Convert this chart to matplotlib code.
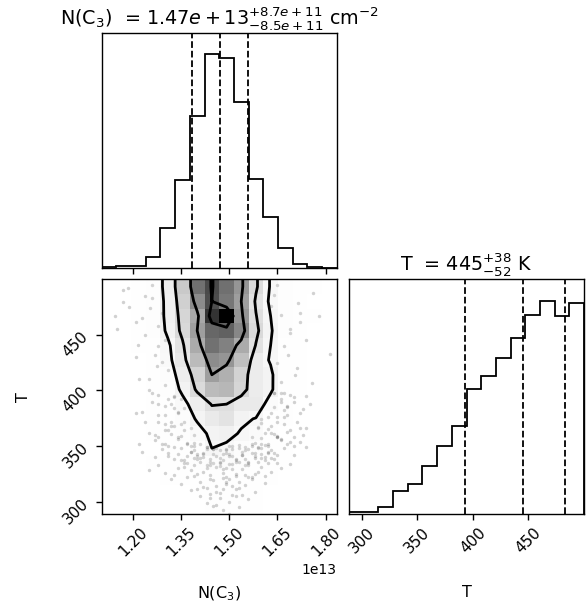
import numpy as np
import matplotlib
matplotlib.use("Agg")
import matplotlib.pyplot as plt
from matplotlib.colors import LinearSegmentedColormap

# ---------------- data ----------------
N_RANGE = (1.104e13, 1.834e13)
T_RANGE = (288.5, 500.0)
NBINS = 16

# 1D marginal histograms (relative counts per bin, low -> high)
N_HIST = [2, 4, 6, 32, 119, 264, 457, 643, 632, 498, 268, 152, 58, 10, 1, 0]
T_HIST = [6, 8, 23, 70, 90, 146, 205, 266, 376, 413, 468, 528, 598, 640, 594, 632]

# quantiles (16, 50, 84 %)
N_Q = [1.385e13, 1.47e13, 1.557e13]
T_Q = [393, 445, 483]

N_TICKS = [1.20e13, 1.35e13, 1.50e13, 1.65e13, 1.80e13]
T_TICKS = [300, 350, 400, 450]

N_TITLE = r"N(C$_3$)  = ${1.47e+13}_{-8.5e+11}^{+8.7e+11}$ cm$^{-2}$"
T_TITLE = r"T  = ${445}_{-52}^{+38}$ K"
N_LABEL = r"N(C$_3$)"
T_LABEL = "T"

# 2D histogram counts: rows = T bins from highest (top) to lowest, cols = N bins low -> high
H_ROWS_TOP_DOWN = [
    [0, 0, 3, 12, 34, 64, 104, 118, 105, 90, 52, 24, 10, 6, 2, 0],
    [0, 0, 3, 11, 32, 60, 94, 117, 102, 86, 46, 22, 10, 4, 0, 0],
    [0, 0, 2, 10, 32, 56, 82, 125, 140, 90, 50, 26, 12, 5, 2, 0],
    [0, 0, 2, 9, 30, 54, 86, 108, 110, 96, 54, 28, 10, 4, 0, 0],
    [0, 0, 1, 6, 22, 46, 80, 104, 98, 80, 48, 26, 8, 2, 0, 0],
    [0, 0, 0, 5, 20, 42, 72, 94, 90, 70, 38, 24, 6, 1, 0, 0],
    [0, 0, 0, 3, 15, 36, 58, 86, 78, 58, 38, 30, 5, 1, 0, 0],
    [0, 0, 0, 2, 12, 30, 52, 72, 74, 56, 38, 30, 4, 1, 0, 0],
    [0, 0, 0, 2, 8, 20, 36, 50, 49, 40, 40, 16, 4, 0, 0, 0],
    [0, 0, 0, 1, 6, 15, 28, 40, 46, 30, 25, 8, 3, 0, 0, 0],
    [0, 0, 0, 1, 4, 10, 19, 30, 32, 24, 18, 6, 0, 0, 0, 0],
    [0, 0, 0, 0, 3, 6, 12, 26, 22, 14, 9, 4, 1, 0, 0, 0],
    [0, 0, 0, 1, 2, 5, 9, 14, 16, 12, 6, 3, 1, 0, 0, 0],
    [0, 0, 0, 0, 1, 2, 3, 4, 5, 4, 3, 1, 0, 0, 0, 0],
    [0, 0, 0, 0, 0, 0, 1, 2, 2, 2, 1, 0, 0, 0, 0, 0],
    [0, 0, 0, 0, 0, 0, 0, 1, 2, 2, 1, 0, 0, 0, 0, 0],
]

# individual samples visible outside the outer contour (N in units of 1e13)
PTS_N = [
    # left wing
    1.187, 1.238, 1.145, 1.254, 1.218, 1.275, 1.228, 1.17, 1.21, 1.26, 1.28, 1.24, 1.29,
    1.27, 1.22, 1.30, 1.31, 1.25, 1.33, 1.29, 1.32, 1.35, 1.28, 1.34, 1.36, 1.31,
    1.15, 1.19, 1.23, 1.26, 1.21, 1.17, 1.25, 1.30, 1.28,
    1.26, 1.28, 1.30, 1.32, 1.27, 1.29, 1.31, 1.33, 1.24, 1.34, 1.30, 1.28,
    # right wing
    1.647, 1.714, 1.756, 1.813, 1.683, 1.704, 1.64, 1.66, 1.69, 1.63, 1.67, 1.65, 1.72,
    1.62, 1.64, 1.61, 1.66, 1.63, 1.60, 1.62, 1.68, 1.74, 1.65, 1.60, 1.59,
    1.72, 1.76, 1.69, 1.71, 1.67, 1.74, 1.78, 1.66,
    1.64, 1.66, 1.68, 1.70, 1.72, 1.75, 1.65, 1.67, 1.69, 1.71, 1.73, 1.66, 1.68, 1.63,
    1.70, 1.74, 1.67, 1.65, 1.69, 1.72,
    # low-T tail
    1.46, 1.50, 1.44, 1.53, 1.48, 1.41, 1.56, 1.51,
    1.38, 1.43, 1.47, 1.52, 1.55, 1.49, 1.41, 1.58, 1.45, 1.35, 1.50, 1.53, 1.46, 1.61,
    1.40, 1.57, 1.44, 1.48, 1.32, 1.52,
    1.42, 1.46, 1.49, 1.53, 1.56, 1.44, 1.51, 1.47, 1.39, 1.54, 1.45, 1.50, 1.48, 1.43, 1.52,
    1.30, 1.34, 1.37, 1.39, 1.42, 1.44, 1.46, 1.48, 1.50, 1.52, 1.54, 1.56, 1.58, 1.60,
    1.63, 1.36, 1.40, 1.45, 1.49, 1.53, 1.57, 1.62, 1.28, 1.66, 1.43, 1.47, 1.51, 1.55,
    1.33, 1.59, 1.41, 1.38, 1.61, 1.25, 1.69,
    1.27, 1.31, 1.33, 1.35, 1.37, 1.39, 1.41, 1.43, 1.45, 1.47, 1.49, 1.51, 1.53, 1.55,
    1.57, 1.59, 1.61, 1.63, 1.65, 1.67, 1.36, 1.40, 1.44, 1.48, 1.52, 1.56, 1.60, 1.64,
    1.34, 1.38, 1.42, 1.46, 1.50, 1.54, 1.58, 1.62, 1.29, 1.23, 1.70, 1.74,
    1.31, 1.35, 1.38, 1.42, 1.45, 1.49, 1.52, 1.55, 1.58, 1.61, 1.64, 1.33, 1.37, 1.40,
    1.43, 1.47, 1.50, 1.54, 1.57, 1.60, 1.63, 1.36, 1.39, 1.44, 1.48, 1.51, 1.56, 1.59,
    1.62, 1.65,
    1.37, 1.39, 1.41, 1.43, 1.45, 1.47, 1.49, 1.51, 1.53, 1.55, 1.57, 1.59, 1.61, 1.38,
    1.42, 1.46, 1.50, 1.54, 1.58, 1.40, 1.44, 1.48, 1.52, 1.56, 1.60, 1.43, 1.47, 1.51,
    1.55, 1.49,
    1.30, 1.34, 1.37, 1.39, 1.36, 1.33, 1.28, 1.25, 1.38, 1.32, 1.58, 1.60, 1.62, 1.64,
    1.59, 1.63, 1.66, 1.68, 1.61, 1.57, 1.35, 1.22, 1.70,
    1.27, 1.31, 1.35, 1.39, 1.62, 1.65, 1.69, 1.72, 1.30, 1.36, 1.60, 1.67,
    1.32, 1.28, 1.34, 1.30, 1.26, 1.33, 1.21, 1.65, 1.68, 1.64, 1.70, 1.66, 1.73, 1.62,
]
PTS_T = [
    492, 485, 467, 474, 441, 422, 381, 480, 462, 495, 458, 450, 470,
    432, 410, 445, 418, 400, 395, 426, 388, 392, 372, 380, 384, 364,
    455, 475, 465, 483, 430, 490, 410, 405, 440,
    398, 388, 378, 368, 360, 352, 392, 384, 372, 358, 364, 396,
    495, 479, 407, 433, 432, 414, 486, 468, 452, 476, 440, 425, 462,
    445, 398, 410, 390, 380, 374, 365, 385, 395, 358, 352, 367,
    470, 488, 455, 420, 398, 445, 467, 408,
    398, 392, 386, 394, 380, 388, 376, 370, 364, 372, 360, 356, 352, 362,
    350, 366, 382, 358, 396, 354,
    297, 300, 303, 295, 292, 305, 302, 306,
    310, 312, 308, 311, 315, 316, 318, 309, 319, 316, 320, 318, 314, 317,
    311, 320, 307, 321, 320, 305,
    313, 309, 318, 312, 322, 320, 314, 303, 323, 306, 296, 289, 311, 299, 325,
    326, 330, 322, 333, 327, 324, 331, 326, 334, 323, 329, 333, 325, 331,
    327, 335, 325, 335, 322, 336, 322, 335, 333, 330, 330, 336, 329, 324,
    324, 336, 336, 328, 323, 328, 334,
    340, 344, 338, 348, 341, 346, 339, 349, 343, 339, 346, 341, 348, 338,
    344, 349, 340, 346, 342, 348, 337, 343, 338, 343, 337, 347, 343, 338,
    343, 350, 344, 348, 350, 342, 339, 344, 347, 345, 342, 349,
    341, 337, 345, 340, 347, 344, 336, 346, 341, 337, 344, 349, 335, 341,
    347, 335, 343, 345, 350, 348, 339, 331, 339, 333, 329, 347, 335, 327,
    345, 335,
    352, 350, 352, 349, 347, 346, 347, 350, 351, 349, 352, 348, 351, 345,
    343, 341, 341, 342, 344, 338, 336, 337, 338, 336, 339, 333, 332, 334,
    333, 330,
    352, 356, 353, 360, 364, 368, 358, 362, 366, 361, 353, 357, 352, 361,
    366, 368, 355, 363, 362, 358, 370, 352, 358,
    355, 350, 359, 353, 350, 359, 354, 366, 370, 372, 371, 376,
    372, 378, 381, 386, 390, 394, 380, 372, 378, 385, 390, 398, 383, 376,
]
N_UNIT = 1e13

# ---------------- figure ----------------
W, Hpx = 588, 606
fig = plt.figure(figsize=(W / 100, Hpx / 100), dpi=100)
aw, ah = 235 / W, 235 / Hpx
ax00 = fig.add_axes([101.7 / W, 338.4 / Hpx, aw, ah])
ax10 = fig.add_axes([101.7 / W, 91.7 / Hpx, aw, ah])
ax11 = fig.add_axes([349.0 / W, 91.7 / Hpx, aw, ah])

xedges = np.linspace(N_RANGE[0], N_RANGE[1], NBINS + 1)
yedges = np.linspace(T_RANGE[0], T_RANGE[1], NBINS + 1)

HIST_LW = 1.3
TICK_FS = 11
LABEL_FS = 11.5
TITLE_FS = 13.8
for ax in (ax00, ax10, ax11):
    for sp in ax.spines.values():
        sp.set_linewidth(1.0)
    ax.tick_params(width=1.0, length=4, labelsize=TICK_FS)

# --- top-left marginal
ax00.stairs(N_HIST, xedges, color="k", lw=HIST_LW)
for q in N_Q:
    ax00.axvline(q, ls="--", color="k", lw=HIST_LW)
ax00.set_xlim(*N_RANGE)
ax00.set_ylim(0, 1.1 * max(N_HIST))
ax00.set_yticks([])
ax00.set_xticks(N_TICKS)
ax00.set_xticklabels([])
ax00.set_title(N_TITLE, fontsize=TITLE_FS)

# --- bottom-right marginal
ax11.stairs(T_HIST, yedges, color="k", lw=HIST_LW)
for q in T_Q:
    ax11.axvline(q, ls="--", color="k", lw=HIST_LW)
ax11.set_xlim(*T_RANGE)
ax11.set_ylim(0, 1.1 * max(T_HIST))
ax11.set_yticks([])
ax11.set_xticks(T_TICKS)
ax11.set_title(T_TITLE, fontsize=TITLE_FS)
for l in ax11.get_xticklabels():
    l.set_rotation(45)
ax11.set_xlabel(T_LABEL, fontsize=LABEL_FS)
ax11.xaxis.set_label_coords(0.5, -0.3)

# --- 2D panel
H = np.array(H_ROWS_TOP_DOWN[::-1], dtype=float).T  # H[ix, iy]
levels = 1.0 - np.exp(-0.5 * np.arange(0.5, 2.1, 0.5) ** 2)
Hflat = H.flatten()
Hflat = Hflat[np.argsort(Hflat)[::-1]]
sm = np.cumsum(Hflat)
sm /= sm[-1]
V = np.empty(len(levels))
for i, v0 in enumerate(levels):
    try:
        V[i] = Hflat[sm <= v0][-1]
    except IndexError:
        V[i] = Hflat[0]
V.sort()
m = np.diff(V) == 0
while np.any(m):
    V[np.where(m)[0][0]] *= 1.0 - 1e-4
    m = np.diff(V) == 0
V.sort()

X1 = 0.5 * (xedges[1:] + xedges[:-1])
Y1 = 0.5 * (yedges[1:] + yedges[:-1])
H2 = H.min() + np.zeros((H.shape[0] + 4, H.shape[1] + 4))
H2[2:-2, 2:-2] = H
H2[2:-2, 1] = H[:, 0]
H2[2:-2, -2] = H[:, -1]
H2[1, 2:-2] = H[0]
H2[-2, 2:-2] = H[-1]
H2[1, 1] = H[0, 0]
H2[1, -2] = H[0, -1]
H2[-2, 1] = H[-1, 0]
H2[-2, -2] = H[-1, -1]
X2 = np.concatenate([X1[0] + np.array([-2, -1]) * np.diff(X1[:2]), X1,
                     X1[-1] + np.array([1, 2]) * np.diff(X1[-2:])])
Y2 = np.concatenate([Y1[0] + np.array([-2, -1]) * np.diff(Y1[:2]), Y1,
                     Y1[-1] + np.array([1, 2]) * np.diff(Y1[-2:])])

white_cmap = LinearSegmentedColormap.from_list("white_cmap", [(1, 1, 1), (1, 1, 1)], N=2)
density_cmap = LinearSegmentedColormap.from_list("density_cmap", [(0, 0, 0, 1), (1, 1, 1, 0)])

ax10.plot(np.array(PTS_N) * N_UNIT, PTS_T, "o", color="k", ms=2.5, mec="none",
          alpha=0.18, zorder=-1)
ax10.contourf(X2, Y2, H2.T, [V.min(), H.max()], cmap=white_cmap, antialiased=False)
ax10.pcolormesh(xedges, yedges, H.max() - H.T, cmap=density_cmap, shading="flat")
ax10.contour(X2, Y2, H2.T, V, colors="k", linewidths=2.0)
ax10.set_xlim(*N_RANGE)
ax10.set_ylim(*T_RANGE)
ax10.set_xticks(N_TICKS)
ax10.set_yticks(T_TICKS)
for l in ax10.get_xticklabels():
    l.set_rotation(45)
for l in ax10.get_yticklabels():
    l.set_rotation(45)
ax10.set_xlabel(N_LABEL, fontsize=LABEL_FS)
ax10.set_ylabel(T_LABEL, fontsize=LABEL_FS)
ax10.xaxis.set_label_coords(0.5, -0.3)
ax10.yaxis.set_label_coords(-0.3, 0.5)

fig.savefig("out.png", dpi=100)
